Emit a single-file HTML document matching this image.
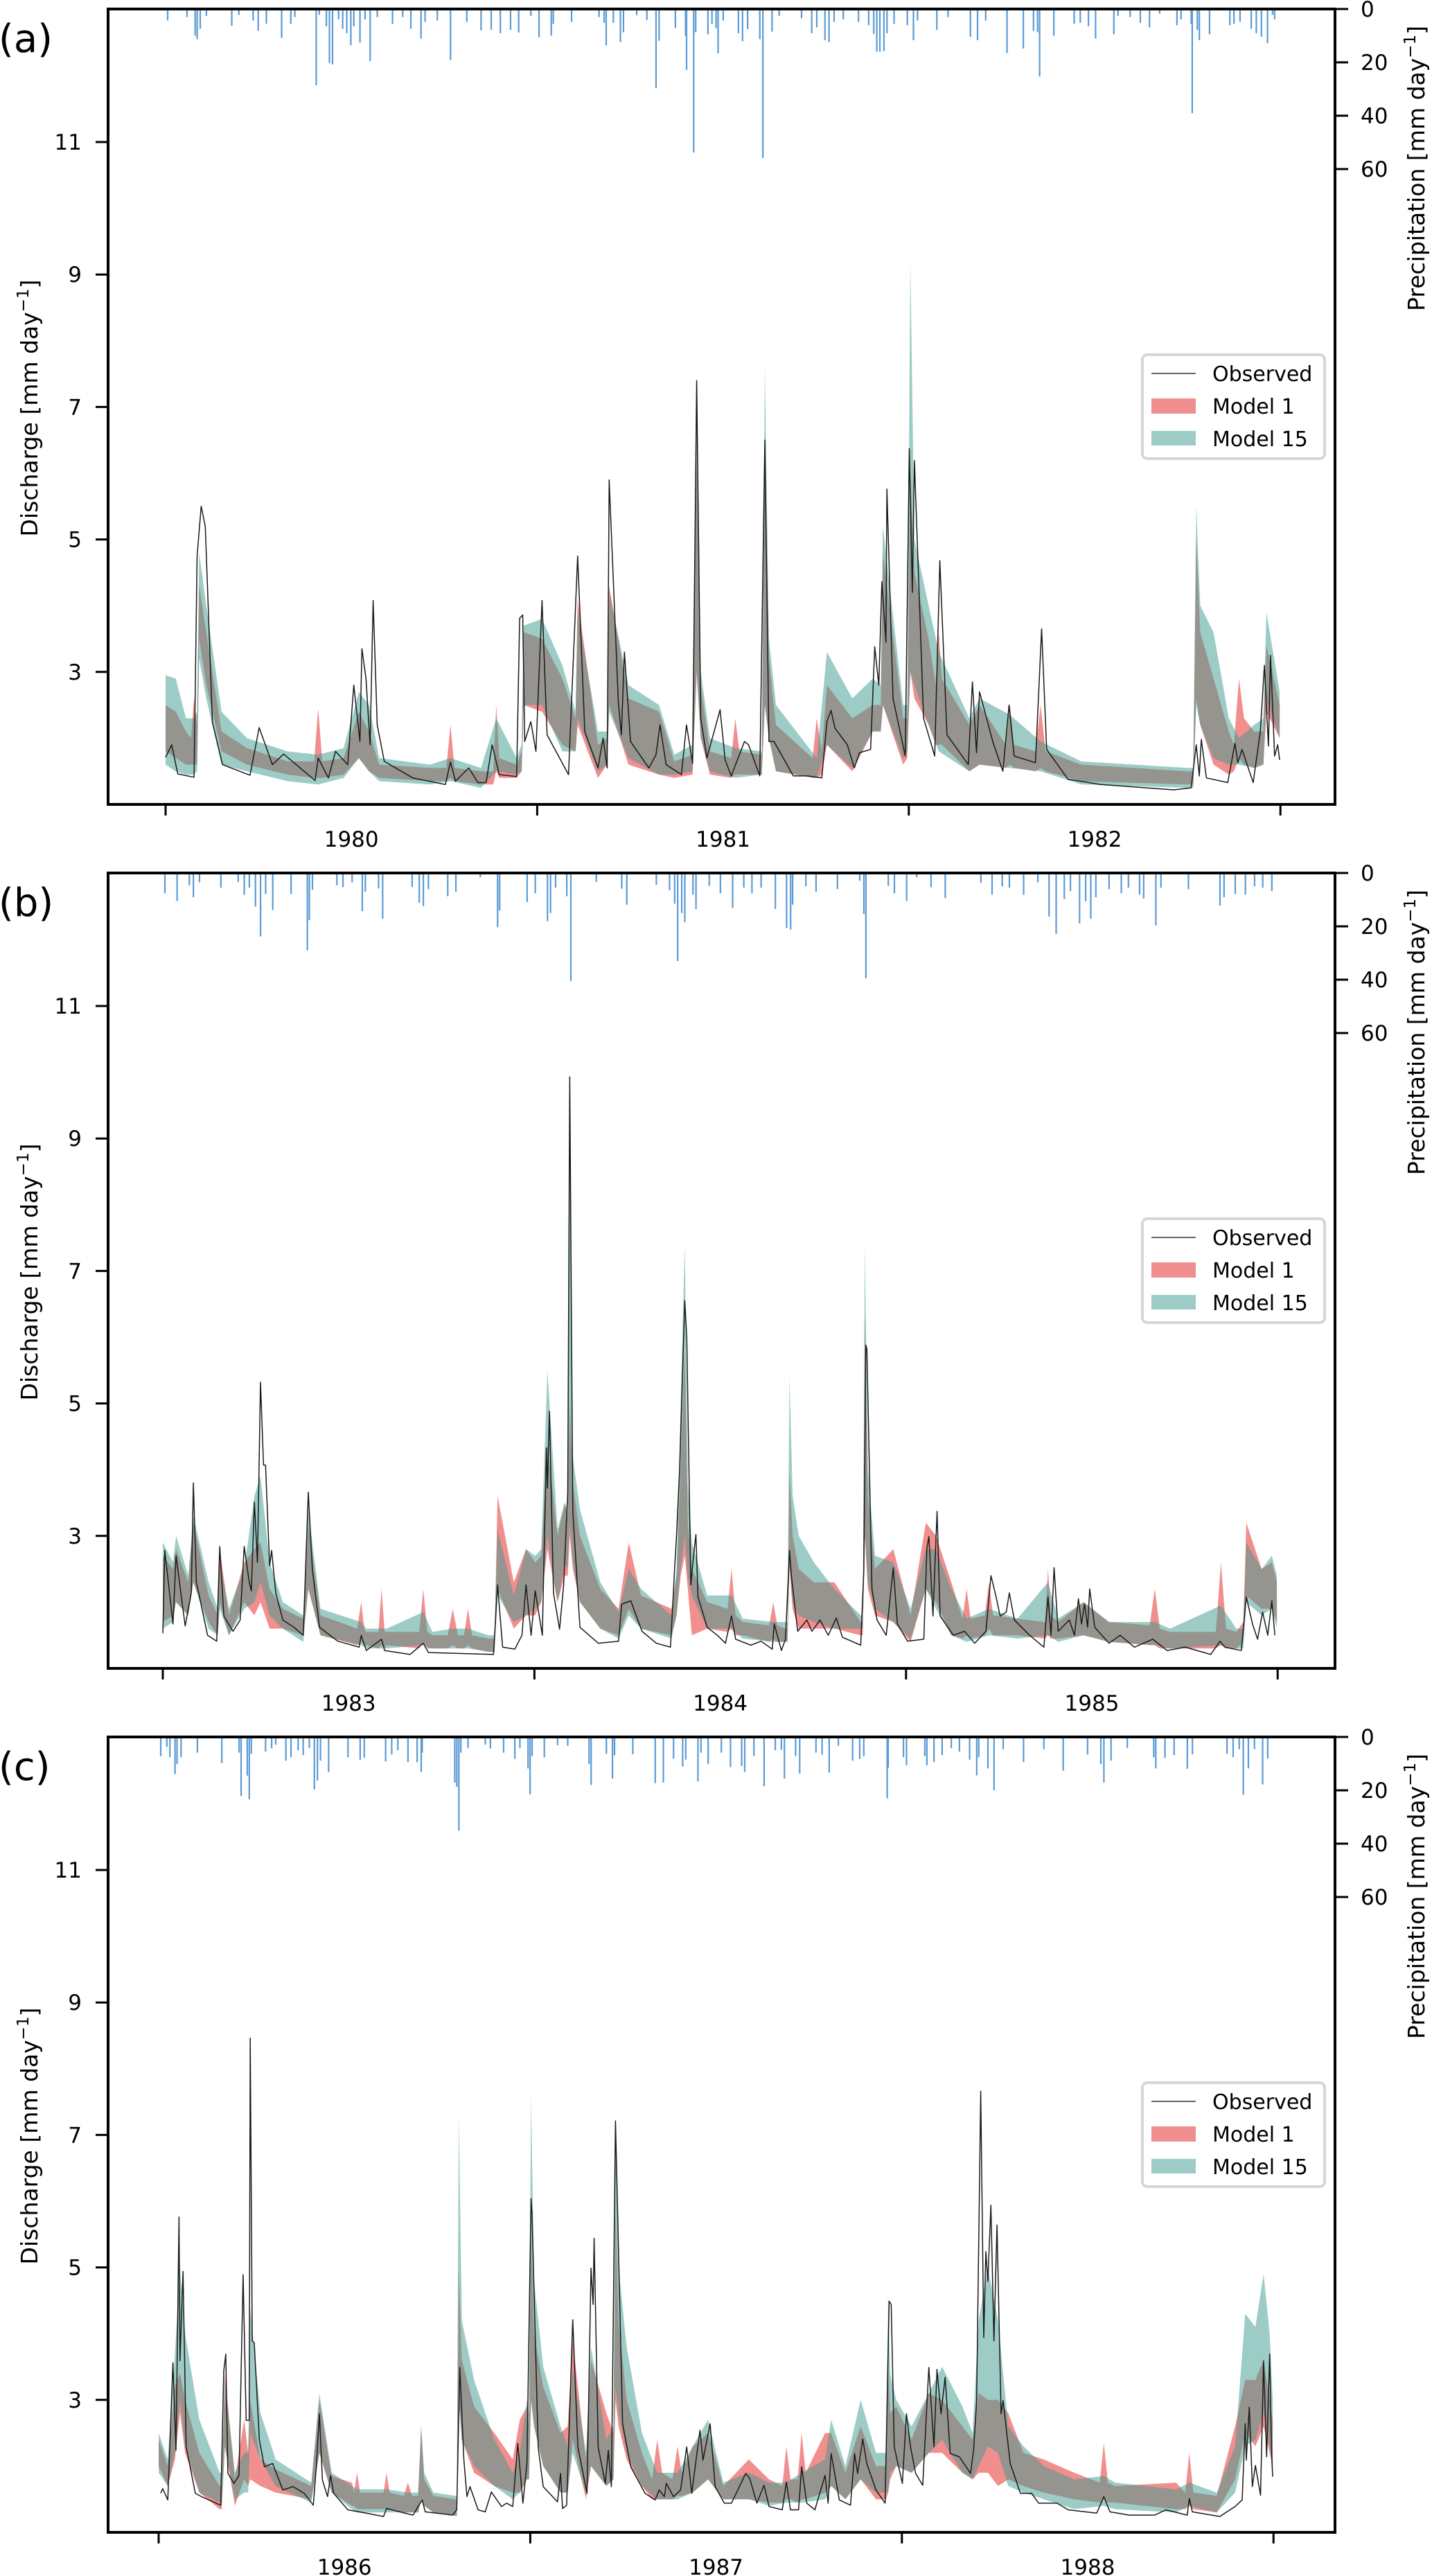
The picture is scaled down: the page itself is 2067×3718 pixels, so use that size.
<!DOCTYPE html>
<html>
<head>
<meta charset="utf-8">
<style>
  html, body { margin:0; padding:0; background:#fff; }
  body { width:2067px; height:3718px; overflow:hidden; }
  svg { display:block; }
  text { font-family: "DejaVu Sans", "Liberation Sans", sans-serif; fill:#000; }
</style>
</head>
<body>
<svg id="fig" width="2067" height="3718" viewBox="0 0 2067 3718" xmlns="http://www.w3.org/2000/svg"></svg>
<script>
// ---------- Panel (a) 1980-1982 ----------
const obsA = [[0,1.71],[6,1.9],[12,1.46],[28,1.41],[31,4.75],[35,5.5],[39,5.2],[46,2.24],[56,1.6],[83,1.44],[92,2.16],[105,1.6],[116,1.76],[147,1.36],[150,1.7],[160,1.4],[167,1.8],[179,1.6],[185,2.8],[191,1.95],[193,3.35],[197,2.9],[201,1.9],[204,4.08],[208,2.2],[215,1.65],[243,1.4],[275,1.3],[280,1.64],[285,1.35],[298,1.55],[307,1.33],[315,1.33],[321,1.9],[328,1.45],[345,1.42],[348,3.81],[351,3.86],[353,1.95],[359,2.25],[364,1.8],[370,4.08],[375,2.05],[396,1.45],[405,4.75],[412,2.1],[425,1.55],[430,2.0],[434,1.55],[436,5.9],[445,2.55],[448,2.05],[451,3.3],[457,1.95],[475,1.55],[482,1.75],[486,2.2],[492,1.6],[507,1.45],[512,2.2],[518,1.62],[522,7.4],[526,2.3],[532,1.7],[545,2.43],[550,1.67],[556,1.43],[569,1.95],[573,1.9],[584,1.43],[589,6.5],[593,1.95],[598,1.95],[617,1.43],[631,1.43],[645,1.4],[650,2.25],[654,2.42],[658,2.15],[670,1.9],[677,1.55],[682,1.78],[693,1.83],[697,3.38],[701,2.8],[704,4.36],[708,3.45],[709,5.76],[715,2.6],[727,1.73],[731,6.37],[734,4.2],[736,6.19],[745,2.3],[756,1.73],[761,4.68],[768,2.05],[789,1.6],[793,2.85],[797,1.78],[800,2.7],[813,1.95],[823,1.5],[829,2.5],[834,1.73],[855,1.63],[861,3.65],[866,1.83],[887,1.38],[919,1.3],[991,1.22],[1008,1.25],[1013,1.9],[1016,1.43],[1018,1.98],[1023,1.4],[1044,1.33],[1051,1.92],[1054,1.63],[1058,1.83],[1069,1.33],[1076,2.1],[1080,3.1],[1084,1.88],[1086,3.25],[1090,1.73],[1093,1.9],[1095,1.67]];
const m15A = [[0,1.6,2.95],[10,1.5,2.9],[20,1.45,2.3],[28,1.45,2.3],[33,3.2,4.8],[40,2.6,4.0],[55,1.6,2.4],[80,1.5,2.0],[120,1.35,1.8],[150,1.3,1.75],[175,1.4,1.85],[190,1.7,2.7],[200,1.5,2.5],[210,1.35,1.7],[260,1.3,1.6],[280,1.35,1.7],[310,1.25,1.55],[325,1.5,2.3],[345,1.45,1.7],[352,2.5,3.7],[370,2.5,3.8],[390,1.8,3.1],[405,2.3,3.9],[425,1.5,2.1],[436,2.4,4.2],[455,1.7,2.8],[485,1.45,2.5],[500,1.45,1.75],[522,3.0,7.0],[535,1.5,2.0],[560,1.4,1.85],[589,2.5,7.6],[600,1.5,2.5],[640,1.4,1.7],[650,1.9,3.3],[675,1.55,2.6],[695,2.1,2.9],[705,2.5,5.2],[725,1.7,2.5],[732,3.0,9.2],[750,2.2,4.0],[760,1.8,3.3],[790,1.5,2.3],[800,1.6,2.6],[830,1.55,2.35],[860,1.5,1.95],[900,1.3,1.65],[1005,1.25,1.55],[1013,2.5,5.5],[1030,1.7,3.6],[1045,1.6,2.3],[1055,1.6,2.0],[1070,1.55,2.2],[1082,2.6,3.9],[1095,2.0,2.7],
  [31,1.5,2.4],[350,1.5,1.9],[403,1.8,2.4],[434,1.6,2.1],[518,1.5,1.9],[526,2.0,3.0],[586,1.45,1.8],[593,2.0,3.5],[703,2.1,2.8],[729,1.8,2.5],[736,2.8,5.0],[1010,1.25,1.55],[1017,2.2,4.0],[1079,1.6,2.3]];
const m1A = [[0,1.8,2.5],[10,1.7,2.4],[20,1.6,2.1],[28,1.6,2.6],[33,3.5,4.3],[40,2.8,3.6],[55,1.8,2.1],[80,1.6,1.85],[120,1.45,1.65],[150,1.4,2.45],[175,1.45,1.7],[190,1.7,2.4],[200,1.5,2.1],[210,1.4,1.6],[260,1.35,1.55],[280,1.4,2.2],[310,1.3,1.5],[325,1.5,2.5],[345,1.4,1.6],[352,2.5,3.6],[370,2.4,3.5],[390,1.9,2.9],[405,2.2,4.1],[425,1.4,1.9],[436,2.5,4.3],[455,1.6,2.6],[485,1.45,2.4],[500,1.4,1.65],[522,3.0,6.2],[535,1.45,1.8],[560,1.45,2.3],[589,2.5,6.5],[600,1.5,2.2],[640,1.4,2.3],[650,1.9,2.8],[675,1.5,2.3],[695,2.1,2.5],[705,2.5,4.8],[725,1.6,2.3],[732,3.0,6.0],[750,2.2,3.5],[760,1.9,3.6],[790,1.5,2.2],[800,1.6,2.5],[830,1.6,2.5],[860,1.55,2.5],[900,1.35,1.6],[1005,1.3,1.5],[1013,2.6,5.0],[1030,1.6,2.9],[1045,1.45,2.1],[1055,1.7,2.9],[1070,1.55,2.1],[1082,2.4,3.4],[1095,2.0,2.5],
  [25,1.6,2.0],[31,1.6,2.2],[146,1.4,1.65],[154,1.4,1.65],[276,1.35,1.55],[284,1.35,1.55],[322,1.3,1.5],[328,1.4,1.7],[350,1.5,1.8],[403,1.8,2.3],[434,1.6,2.0],[518,1.45,1.75],[526,2.0,2.8],[556,1.4,1.7],[564,1.45,1.8],[586,1.45,1.75],[593,2.0,3.2],[636,1.4,1.7],[645,1.45,1.8],[703,2.1,2.5],[729,1.7,2.3],[736,2.6,4.5],[757,1.9,2.8],[763,1.9,2.9],[826,1.55,1.9],[834,1.55,1.9],[855,1.5,1.8],[865,1.5,1.8],[1010,1.3,1.5],[1017,2.2,3.6],[1050,1.5,1.9],[1060,1.6,2.3],[1079,1.6,2.1]];
const precipA = [[2,4.3],[21,3],[29,10],[31,11.3],[34,7.4],[40,2.6],[65,6.3],[72,2.2],[86,4.3],[91,8.2],[99,5.5],[114,10.8],[123,5.6],[127,3],[148,28.6],[151,2.2],[158,6.5],[161,20.3],[164,20.8],[170,3.9],[174,7.4],[178,9.1],[182,13.6],[185,6.5],[191,12.6],[196,3.9],[201,19.5],[208,3],[223,5.6],[233,3],[241,7.4],[251,11.1],[255,4.8],[267,4.3],[280,19.2],[296,4.8],[310,8],[320,7.8],[329,9.1],[339,7.8],[347,8.8],[359,2.6],[367,10.6],[379,10],[381,5.6],[399,4.8],[426,3],[431,5.2],[433,13.6],[440,5.2],[447,12.4],[450,8.7],[463,2.3],[473,4.1],[482,29.7],[485,11.9],[501,7.1],[511,10],[512,22.8],[519,53.8],[521,8.7],[533,9.5],[537,5.6],[541,7.2],[543,16.6],[548,4.3],[563,9.1],[567,12.1],[572,7.5],[584,11.3],[587,55.8],[596,8.5],[603,2.6],[625,3.5],[635,9.1],[640,6.9],[648,11.7],[652,12.4],[657,4.8],[666,3.9],[681,4.8],[691,6.1],[696,9.3],[699,16],[702,16],[706,15.8],[709,9.1],[716,5.6],[729,6.1],[735,11.7],[739,4.3],[758,7.8],[769,3],[791,10.4],[798,11.7],[806,4.3],[827,16.5],[843,14.8],[853,8.2],[857,8.7],[859,25.3],[873,10],[893,5.6],[899,5.2],[907,6.5],[914,11.1],[932,9.5],[936,2.6],[948,3],[958,5.2],[967,6.9],[977,1.7],[994,6.1],[998,3.9],[1008,5.6],[1009,39.1],[1014,7.8],[1016,11.7],[1026,9.5],[1046,6.1],[1050,5.6],[1056,4.8],[1067,7.4],[1072,9.1],[1077,10.4],[1083,12.8],[1088,2.2],[1090,3.9]];

// ---------- Panel (b) 1983-1985 ----------
const obsB = [[0,1.53],[2,2.78],[10,1.67],[13,2.7],[22,1.64],[28,2.14],[30,3.8],[33,2.3],[44,1.5],[53,1.41],[56,2.84],[60,1.79],[69,1.56],[76,1.73],[80,2.84],[85,2.3],[87,2.17],[90,3.51],[93,2.6],[96,5.32],[99,4.07],[101,4.07],[105,2.55],[107,2.78],[111,2.14],[118,1.73],[129,1.62],[138,1.5],[143,3.66],[147,2.49],[154,1.62],[172,1.41],[193,1.32],[195,1.5],[200,1.27],[215,1.44],[218,1.27],[243,1.21],[256,1.38],[261,1.24],[325,1.21],[329,2.26],[334,1.32],[346,1.29],[353,1.5],[357,2.26],[362,1.5],[366,2.17],[373,1.5],[377,4.33],[378,3.72],[380,4.88],[384,2.14],[390,1.59],[394,2.26],[398,3.66],[400,9.93],[403,3.37],[410,1.62],[428,1.38],[448,1.41],[451,1.97],[460,2.02],[471,1.56],[485,1.38],[499,1.32],[503,2.49],[505,3.02],[508,4.01],[513,6.55],[515,6.0],[519,2.26],[521,2.6],[524,3.02],[526,2.08],[535,1.62],[545,1.5],[553,1.38],[559,1.79],[563,1.44],[578,1.35],[588,1.41],[599,1.29],[601,1.67],[608,1.27],[612,1.44],[616,2.78],[618,2.37],[624,1.56],[633,1.73],[638,1.56],[646,1.73],[654,1.5],[662,1.76],[668,1.47],[686,1.35],[689,2.49],[691,5.88],[692,5.82],[697,2.2],[702,1.73],[711,1.5],[718,2.52],[722,1.67],[732,1.41],[748,1.44],[751,2.81],[753,2.99],[757,1.79],[761,3.37],[764,1.79],[777,1.5],[788,1.56],[798,1.38],[809,1.56],[814,2.4],[819,2.08],[823,1.79],[829,1.85],[832,2.14],[837,1.73],[852,1.5],[866,1.32],[870,2.08],[873,1.5],[876,2.52],[880,1.56],[891,1.73],[896,1.5],[900,2.05],[903,1.67],[906,1.97],[909,1.62],[911,2.2],[916,1.62],[930,1.38],[941,1.5],[955,1.32],[973,1.44],[987,1.27],[1005,1.32],[1030,1.21],[1039,1.41],[1044,1.32],[1060,1.27],[1065,2.08],[1071,1.67],[1076,1.44],[1081,1.85],[1086,1.5],[1090,2.02],[1093,1.5]];
const m15B = [[0,1.6,2.9],[10,1.7,2.6],[13,2.0,3.0],[25,1.8,2.4],[30,2.3,3.3],[45,1.6,2.3],[54,1.5,1.9],[56,1.9,2.6],[65,1.5,1.9],[80,1.9,2.5],[90,2.0,3.6],[96,2.3,3.9],[105,1.8,2.6],[118,1.6,2.0],[138,1.4,1.8],[143,2.2,3.4],[155,1.5,1.9],[195,1.35,1.7],[200,1.3,1.6],[215,1.3,1.6],[220,1.3,1.6],[256,1.35,1.85],[265,1.3,1.55],[285,1.3,1.6],[300,1.3,1.6],[320,1.25,1.5],[329,2.1,3.1],[345,1.7,2.1],[357,1.8,2.8],[366,1.9,2.7],[372,2.0,2.8],[378,3.0,5.5],[388,2.0,3.1],[395,2.6,3.5],[400,3.2,9.9],[410,2.0,3.4],[430,1.6,2.3],[448,1.45,1.85],[458,1.8,2.5],[470,1.6,2.2],[500,1.45,1.8],[509,2.5,5.0],[513,3.0,7.4],[520,2.1,2.9],[535,1.6,2.1],[559,1.6,2.1],[570,1.45,1.75],[600,1.4,1.7],[612,1.4,1.7],[616,2.6,5.4],[625,1.8,3.0],[640,1.7,2.6],[660,1.6,2.2],[686,1.6,1.8],[690,3.0,7.4],[700,1.9,2.7],[718,1.7,2.6],[735,1.45,1.9],[750,2.2,2.8],[760,1.9,2.8],[775,1.5,2.2],[790,1.4,1.75],[812,1.5,1.9],[840,1.45,1.75],[870,1.5,2.3],[880,1.4,1.75],[905,1.5,2.0],[930,1.4,1.7],[975,1.35,1.7],[990,1.3,1.6],[1040,1.35,1.95],[1055,1.3,1.6],[1065,2.0,2.9],[1080,1.8,2.5],[1090,1.9,2.7],[1095,1.6,2.4],
  [326,1.25,1.5],[398,2.5,3.4],[403,2.6,4.2],[505,1.8,2.5],[516,2.4,3.8],[614,1.4,1.7],[619,2.0,3.6],[688,1.6,1.8],[693,2.3,4.0],[1062,1.3,1.6]];
const m1B = [[0,1.7,2.7],[10,1.8,2.5],[13,2.0,2.8],[25,1.8,2.3],[30,2.3,3.2],[45,1.7,2.1],[54,1.5,1.8],[56,2.0,2.8],[65,1.5,1.8],[80,2.0,2.6],[90,1.8,2.8],[96,2.0,2.9],[105,1.6,2.2],[118,1.6,1.9],[138,1.5,1.75],[143,2.2,3.2],[155,1.5,1.8],[195,1.4,2.0],[200,1.35,1.55],[215,1.35,2.2],[220,1.35,1.55],[256,1.4,2.2],[265,1.3,1.5],[285,1.35,1.9],[300,1.35,1.9],[320,1.25,1.45],[329,2.2,3.6],[345,1.6,2.3],[357,1.8,2.8],[366,1.8,2.6],[372,2.0,2.7],[378,2.8,4.4],[388,2.0,3.0],[395,2.4,3.5],[400,3.0,5.0],[410,2.0,3.0],[430,1.6,2.2],[448,1.5,1.9],[458,1.9,2.9],[470,1.6,2.1],[500,1.5,1.9],[509,2.4,4.0],[513,2.7,5.8],[520,1.5,2.5],[535,1.6,2.0],[559,1.6,2.5],[570,1.5,1.7],[600,1.45,2.0],[612,1.4,1.6],[616,2.5,4.0],[625,1.6,2.5],[640,1.6,2.3],[660,1.6,2.3],[686,1.5,1.7],[690,3.0,6.4],[700,1.8,2.5],[718,1.7,2.8],[735,1.4,1.8],[750,2.2,3.2],[760,2.0,3.0],[775,1.5,2.3],[790,1.5,2.2],[812,1.6,2.3],[840,1.5,1.75],[870,1.5,2.5],[880,1.45,1.7],[905,1.5,2.0],[930,1.4,1.7],[975,1.35,2.2],[990,1.3,1.55],[1040,1.35,2.6],[1055,1.3,1.55],[1065,2.1,3.2],[1080,1.9,2.5],[1090,1.9,2.6],[1095,1.7,2.3],
  [191,1.35,1.6],[198,1.35,1.6],[212,1.3,1.55],[218,1.3,1.55],[252,1.3,1.55],[260,1.3,1.55],[280,1.3,1.5],[290,1.3,1.5],[296,1.3,1.5],[304,1.3,1.5],[326,1.25,1.45],[398,2.4,3.3],[403,2.5,3.8],[505,1.8,2.4],[516,2.2,3.2],[555,1.55,1.9],[563,1.5,1.8],[596,1.4,1.65],[604,1.4,1.65],[614,1.4,1.6],[619,1.9,3.0],[688,1.5,1.7],[693,2.2,3.6],[786,1.45,1.75],[794,1.45,1.75],[808,1.5,1.8],[816,1.5,1.8],[867,1.45,1.7],[873,1.45,1.8],[970,1.35,1.65],[980,1.3,1.6],[1035,1.3,1.55],[1045,1.3,1.6],[1062,1.4,1.7]];
const precipB = [[2,7.6],[14,10.5],[26,4.6],[30,9.1],[36,3.5],[57,5.5],[74,3.3],[80,8.2],[85,5.5],[91,12.6],[96,23.8],[101,7.9],[108,13.9],[126,7.9],[142,29],[144,17.7],[147,6.3],[171,4.6],[177,5.3],[186,3.5],[196,14.3],[199,7],[212,5.8],[216,17.1],[245,5.3],[252,11.2],[256,12.4],[261,6.1],[280,8.7],[288,7],[312,1.6],[329,20.3],[331,14.1],[358,10.9],[366,7.6],[378,18],[381,15],[386,5.5],[397,8.7],[401,40.5],[426,3.3],[451,5.9],[456,11.9],[485,4.4],[498,6.5],[503,11.5],[506,33],[510,15],[513,18.4],[521,8.1],[524,13.5],[537,4.8],[548,7.6],[560,13.1],[571,5.5],[579,7.6],[588,5.5],[602,13.5],[613,20.6],[617,21.2],[619,11.9],[632,5],[642,7],[663,6],[685,2.9],[689,15.4],[691,39.5],[713,4.8],[719,7.6],[731,10.5],[741,1.6],[755,5.3],[769,9.4],[804,3.7],[815,8.1],[825,5],[832,5.5],[846,8.2],[860,3.5],[871,16.3],[878,22.8],[886,9.8],[892,6.8],[901,18.9],[907,10.6],[912,17.1],[917,9.1],[930,6.1],[942,7.6],[949,5.5],[960,8.1],[964,9.6],[976,19.7],[981,5.5],[1008,6.1],[1039,12.2],[1043,9.1],[1054,7.9],[1064,8.1],[1073,5],[1081,5.5],[1090,6.8]];

// ---------- Panel (c) 1986-1988 ----------
const obsC = [[2,1.59],[4,1.66],[9,1.49],[14,3.56],[17,2.24],[20,5.76],[21,3.59],[24,4.94],[27,2.29],[36,1.59],[42,1.54],[61,1.41],[64,3.44],[66,3.69],[68,1.89],[74,1.74],[79,1.86],[83,4.89],[86,2.69],[89,2.69],[90,8.46],[92,3.89],[94,3.86],[99,2.39],[104,1.99],[112,2.04],[122,1.64],[132,1.69],[143,1.59],[152,1.41],[155,1.99],[158,2.79],[161,1.79],[166,1.54],[169,1.86],[172,1.59],[186,1.34],[204,1.29],[221,1.24],[224,1.36],[250,1.26],[259,1.49],[262,1.31],[289,1.26],[293,1.34],[296,3.49],[300,2.09],[303,1.54],[306,1.69],[314,1.34],[321,1.31],[327,1.61],[337,1.39],[342,1.44],[348,1.39],[353,2.34],[358,1.44],[362,2.04],[366,6.04],[367,5.79],[373,2.29],[378,1.69],[392,1.46],[395,1.89],[397,1.36],[401,1.41],[407,4.21],[412,2.29],[421,1.59],[425,4.99],[427,4.44],[428,5.44],[432,2.29],[439,1.74],[442,2.24],[445,1.69],[449,7.21],[456,2.64],[464,1.99],[478,1.59],[488,1.49],[492,1.64],[497,1.54],[499,1.74],[506,1.54],[513,1.64],[519,2.29],[524,1.59],[532,2.54],[535,2.09],[542,2.64],[547,1.69],[556,1.44],[563,1.44],[577,1.89],[581,1.81],[588,1.44],[595,1.71],[600,1.39],[613,1.34],[617,1.76],[621,1.34],[629,1.34],[632,1.99],[637,1.44],[645,1.34],[655,1.86],[658,1.44],[661,2.19],[669,1.49],[680,1.41],[684,2.19],[687,1.89],[692,2.41],[696,2.04],[705,1.64],[714,1.44],[718,4.49],[720,4.44],[723,2.29],[731,1.74],[735,2.79],[739,2.29],[744,1.89],[751,1.71],[757,3.49],[762,2.29],[765,3.46],[769,2.79],[773,3.34],[778,2.19],[787,2.14],[798,1.89],[801,2.24],[804,2.99],[808,7.66],[811,3.94],[813,5.24],[815,4.79],[818,5.94],[821,3.89],[824,5.64],[828,2.79],[830,2.99],[837,2.04],[847,1.59],[858,1.59],[865,1.44],[883,1.44],[894,1.34],[922,1.29],[929,1.54],[935,1.31],[954,1.26],[979,1.26],[990,1.34],[1011,1.26],[1013,1.51],[1016,1.31],[1043,1.24],[1058,1.39],[1065,1.49],[1068,2.64],[1069,2.09],[1072,2.89],[1075,1.69],[1078,2.01],[1083,1.56],[1086,3.59],[1089,2.14],[1092,3.69],[1094,2.14],[1095,1.84]];
const m15C = [[0,1.9,2.5],[9,1.7,2.1],[16,2.2,3.7],[21,3.0,5.0],[26,2.3,4.0],[40,1.6,2.7],[60,1.45,1.9],[65,2.3,3.3],[75,1.5,1.9],[84,1.6,2.2],[90,2.5,4.4],[100,2.1,2.8],[115,1.7,2.1],[150,1.45,1.75],[158,2.2,3.1],[170,1.6,1.9],[190,1.35,1.7],[195,1.3,1.65],[220,1.3,1.65],[224,1.3,1.65],[245,1.3,1.6],[258,1.5,2.6],[270,1.3,1.6],[292,1.25,1.55],[295,3.0,7.3],[310,2.0,3.3],[330,1.7,2.4],[348,1.5,1.9],[355,1.6,2.2],[362,1.8,3.0],[366,3.0,7.6],[378,2.0,3.5],[395,1.6,2.6],[402,1.6,2.3],[407,2.2,3.5],[420,1.6,2.2],[425,2.0,3.8],[440,1.7,2.4],[449,3.2,7.1],[460,2.2,3.8],[475,1.7,2.5],[490,1.5,1.9],[510,1.5,1.9],[525,1.6,2.3],[540,1.8,2.7],[555,1.5,1.75],[580,1.5,1.9],[600,1.4,1.75],[617,1.45,1.75],[632,1.45,1.9],[655,1.5,2.1],[661,1.7,2.7],[675,1.5,2.0],[690,1.8,3.0],[705,1.6,2.2],[717,1.6,4.6],[725,2.0,3.0],[740,1.9,2.6],[757,2.2,3.1],[770,2.4,3.5],[790,1.9,2.9],[800,1.8,2.5],[806,2.0,4.2],[815,2.3,5.0],[825,2.2,4.2],[835,1.7,2.6],[850,1.6,2.3],[870,1.5,2.0],[900,1.35,1.8],[929,1.4,1.85],[940,1.35,1.75],[1000,1.3,1.65],[1013,1.4,1.75],[1040,1.3,1.6],[1058,1.6,2.3],[1068,2.3,4.3],[1078,2.4,4.1],[1086,2.8,4.9],[1092,2.3,4.0],[1095,2.0,3.0],
  [62,1.45,1.9],[88,1.6,2.2],[255,1.3,1.6],[261,1.4,1.9],[293,1.25,1.55],[298,2.4,4.2],[364,1.8,2.8],[369,2.6,4.8],[447,1.8,2.6],[452,2.8,5.0],[715,1.6,2.2],[719,1.9,3.4]];
const m1C = [[0,2.0,2.4],[9,1.7,2.0],[16,2.1,3.2],[21,2.8,3.4],[26,2.2,3.0],[40,1.6,2.2],[60,1.35,1.7],[65,2.3,3.4],[75,1.4,1.8],[84,1.8,2.7],[90,1.8,3.0],[100,1.7,2.1],[115,1.6,1.95],[150,1.5,1.7],[158,2.2,3.0],[170,1.6,1.85],[190,1.4,1.75],[195,1.35,1.9],[220,1.35,1.6],[224,1.35,1.9],[245,1.3,1.75],[258,1.5,2.6],[270,1.3,1.55],[292,1.25,1.5],[295,3.0,5.0],[310,1.9,2.9],[330,1.7,2.5],[348,1.6,2.1],[355,1.6,2.7],[362,1.8,2.9],[366,3.0,5.5],[378,2.0,3.2],[395,1.6,2.5],[402,1.6,2.6],[407,2.4,3.9],[420,1.5,2.1],[425,2.0,3.6],[440,1.7,2.8],[449,3.0,5.8],[460,2.1,3.0],[475,1.7,2.2],[490,1.5,2.4],[510,1.55,2.3],[525,1.6,2.3],[540,1.8,2.5],[555,1.5,1.7],[580,1.5,2.1],[600,1.45,1.8],[617,1.5,2.3],[632,1.5,2.5],[655,1.6,2.5],[661,1.7,2.5],[675,1.5,1.9],[690,1.8,2.6],[705,1.5,2.0],[717,1.6,3.5],[725,2.0,2.9],[740,1.9,2.4],[757,2.2,3.1],[770,2.2,3.0],[790,1.9,2.6],[800,1.8,2.4],[806,1.9,3.1],[815,1.9,3.0],[825,1.7,3.0],[835,1.8,2.8],[850,1.7,2.2],[870,1.6,2.1],[900,1.5,1.9],[929,1.5,2.35],[940,1.45,1.7],[1000,1.35,1.75],[1013,1.4,2.2],[1040,1.3,1.55],[1058,1.8,2.6],[1068,2.5,3.3],[1078,2.3,3.3],[1086,2.6,3.6],[1092,2.2,3.0],[1095,2.0,2.7],
  [62,1.35,1.7],[88,1.7,2.2],[192,1.4,1.6],[198,1.35,1.6],[221,1.35,1.6],[227,1.35,1.6],[241,1.3,1.55],[249,1.3,1.55],[255,1.3,1.55],[261,1.4,1.8],[293,1.25,1.5],[298,2.4,3.6],[364,1.8,2.6],[369,2.6,4.0],[447,1.8,2.5],[452,2.6,4.2],[485,1.5,1.8],[495,1.5,1.9],[505,1.5,1.8],[514,1.55,1.9],[613,1.45,1.7],[621,1.5,1.8],[628,1.45,1.8],[636,1.5,1.9],[715,1.5,2.0],[719,1.8,2.8],[925,1.45,1.75],[933,1.45,1.75],[1009,1.35,1.6],[1017,1.35,1.6]];
const precipC = [[2,7.2],[8,3.7],[11,7.6],[16,13.9],[18,10.2],[22,7.6],[38,5.9],[62,9.8],[79,5.9],[81,22.2],[87,14.5],[89,23.4],[91,6.3],[105,5.5],[111,4.2],[115,2.9],[125,8.9],[130,7.6],[137,5],[142,6.8],[148,4.2],[153,19.7],[156,16.3],[159,8.9],[167,13.2],[186,7.6],[198,8.5],[202,7.8],[223,9.2],[229,6.6],[235,5],[245,9.4],[254,9.5],[258,13.1],[259,5.9],[291,17.1],[293,18.7],[295,35.1],[297,5.9],[304,4.2],[321,2.9],[326,4.3],[339,5.9],[350,8.2],[355,4.2],[363,11.8],[365,21.5],[367,7.2],[379,7.6],[392,3.1],[402,3.3],[423,10.2],[425,18],[440,6.3],[446,15.6],[448,6.9],[466,6.5],[488,17.3],[496,17.1],[506,8.1],[515,11.1],[518,8.5],[530,16.7],[533,5.9],[540,10.2],[553,5.9],[562,11.3],[573,10.9],[576,13.1],[585,7.2],[595,18.5],[606,5],[612,4.8],[615,15.6],[626,7.2],[630,13.7],[646,5.9],[652,6.6],[659,13.4],[668,3.3],[682,8.9],[689,8.2],[693,7.2],[716,23],[717,11.5],[732,7.6],[735,10.6],[753,7.2],[755,10.6],[762,9.4],[770,6.8],[779,4.2],[787,5.5],[797,8.5],[804,14.4],[806,7.6],[815,11.8],[821,20],[830,4.6],[850,9.4],[870,4.6],[889,12.6],[913,6.6],[926,10.2],[929,17.1],[936,8.9],[952,4.2],[978,7.6],[980,11.8],[989,7.8],[998,6.8],[1011,11.9],[1016,6.5],[1050,6.3],[1056,7.6],[1062,4.6],[1066,21.7],[1071,11.8],[1077,4.6],[1085,17.8],[1090,8.1]];

// ---------- shared axis settings ----------
const yTicks = [3, 5, 7, 9, 11];
const pTicks = [0, 20, 40, 60];
const yearLabelsA = ['1980', '1981', '1982'];
const yearLabelsB = ['1983', '1984', '1985'];
const yearLabelsC = ['1986', '1987', '1988'];
const legendLabels = ['Observed', 'Model 1', 'Model 15'];

const NS = 'http://www.w3.org/2000/svg';
const svg = document.getElementById('fig');
function mk(tag, attrs, parent) {
  const e = document.createElementNS(NS, tag);
  for (const k in attrs) e.setAttribute(k, attrs[k]);
  (parent || svg).appendChild(e);
  return e;
}

const L = 156, R = 1927, PH = 1148;
const RED = 'rgba(228,30,30,0.5)', TEAL = 'rgba(59,153,141,0.5)';

function drawPanel(cfg) {
  const top = cfg.top, bot = top + PH, x0 = cfg.x0;
  const g = mk('g', {});
  
  
  const xs = d => x0 + d / 365.25 * 536.4;
  const ys = v => bot - (v - 1) * 95.6;
  const ps = mm => top + mm * 3.85;

  const pg = mk('g', {}, g);
  
  
  cfg.precip.forEach(p => {
    const r = mk('rect', {x: xs(p[0]) - 1, y: top, width: 2.2, height: Math.max(0, ps(p[1]) - top), fill: '#5b9bd5'}, pg);
    
    
  });

  function band(src, color, name) {
    const arr = src.slice().sort((a, b) => a[0] - b[0]);
    let d = 'M' + arr.map(p => xs(p[0]).toFixed(1) + ',' + ys(p[2]).toFixed(1)).join('L');
    d += 'L' + arr.slice().reverse().map(p => xs(p[0]).toFixed(1) + ',' + ys(p[1]).toFixed(1)).join('L') + 'Z';
    const e = mk('path', {d: d, fill: color, stroke: 'none'}, g);
    
    
  }
  band(cfg.m1, RED, 'model-1-band-' + cfg.letter);
  band(cfg.m15, TEAL, 'model-15-band-' + cfg.letter);

  const obs = cfg.obs.slice().sort((a, b) => a[0] - b[0]);
  const od = 'M' + obs.map(p => xs(p[0]).toFixed(1) + ',' + ys(p[1]).toFixed(1)).join('L');
  const ol = mk('path', {d: od, fill: 'none', stroke: '#1a1a1a', 'stroke-width': 1.5, 'stroke-linejoin': 'round'}, g);
  
  

  const sp = mk('rect', {x: L, y: top, width: R - L, height: PH, fill: 'none', stroke: '#000', 'stroke-width': 4}, g);
  
  

  yTicks.forEach(t => {
    const y = ys(t);
    mk('line', {x1: L - 18, x2: L, y1: y, y2: y, stroke: '#000', 'stroke-width': 3}, g);
    const tx = mk('text', {x: 118, y: y + 11, 'font-size': 31, 'text-anchor': 'end'}, g);
    tx.textContent = t;
    
    
  });
  pTicks.forEach(t => {
    const y = ps(t);
    mk('line', {x1: R, x2: R + 19, y1: y, y2: y, stroke: '#000', 'stroke-width': 3}, g);
    const tx = mk('text', {x: 1964, y: y + 11, 'font-size': 31, 'text-anchor': 'start'}, g);
    tx.textContent = t;
    
    
  });
  for (let i = 0; i <= 3; i++) {
    const x = xs(i * 365.25);
    mk('line', {x1: x, x2: x, y1: bot, y2: bot + 16, stroke: '#000', 'stroke-width': 3}, g);
  }
  cfg.years.forEach((yl, i) => {
    const tx = mk('text', {x: xs((i + 0.5) * 365.25), y: bot + 61, 'font-size': 31, 'text-anchor': 'middle'}, g);
    tx.textContent = yl;
    
    
  });

  const yl = mk('text', {x: 0, y: 0, 'font-size': 33, 'text-anchor': 'middle', transform: 'translate(54,' + (top + 576) + ') rotate(-90)'}, g);
  yl.innerHTML = 'Discharge [mm day<tspan dy="-13" font-size="23">−1</tspan><tspan dy="13">]</tspan>';
  
  
  const pl = mk('text', {x: 0, y: 0, 'font-size': 33, 'text-anchor': 'middle', transform: 'translate(2056,' + (top + 230) + ') rotate(-90)'}, g);
  pl.innerHTML = 'Precipitation [mm day<tspan dy="-13" font-size="23">−1</tspan><tspan dy="13">]</tspan>';
  
  

  const lt = mk('text', {x: -2, y: top + 62, 'font-size': 56}, g);
  lt.textContent = '(' + cfg.letter + ')';
  
  

  const lg = mk('g', {}, g);
  
  
  const lt0 = top + 499;
  mk('rect', {x: 1649, y: lt0, width: 263, height: 150, rx: 7, fill: '#fff', stroke: '#d6d6d6', 'stroke-width': 4}, lg);
  mk('line', {x1: 1662, x2: 1726, y1: lt0 + 27, y2: lt0 + 27, stroke: '#333', 'stroke-width': 1.5}, lg);
  mk('rect', {x: 1662, y: lt0 + 63, width: 64, height: 22, fill: RED}, lg);
  mk('rect', {x: 1662, y: lt0 + 110, width: 64, height: 21, fill: TEAL}, lg);
  legendLabels.forEach((s, i) => {
    const tx = mk('text', {x: 1750, y: lt0 + 38 + i * 47, 'font-size': 30}, lg);
    tx.textContent = s;
    
    
  });
}

drawPanel({letter: 'a', top: 13, x0: 239, obs: obsA, m15: m15A, m1: m1A, precip: precipA, years: yearLabelsA});
drawPanel({letter: 'b', top: 1260, x0: 235, obs: obsB, m15: m15B, m1: m1B, precip: precipB, years: yearLabelsB});
drawPanel({letter: 'c', top: 2507, x0: 229, obs: obsC, m15: m15C, m1: m1C, precip: precipC, years: yearLabelsC});
</script>
</body>
</html>
